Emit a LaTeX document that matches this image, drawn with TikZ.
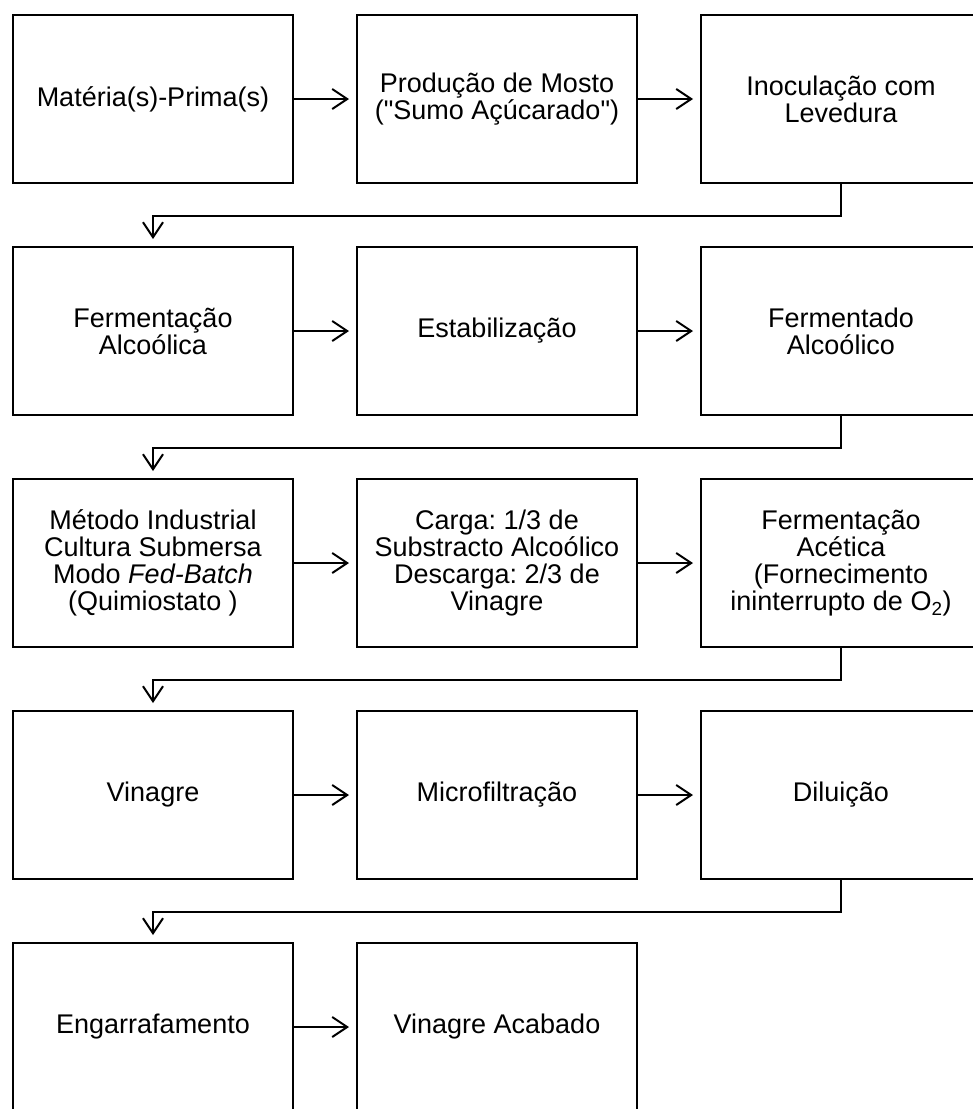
\documentclass[tikz,border=0pt]{standalone}
\usepackage{fontspec}
\newfontfamily\lsans{Liberation Sans}
\usetikzlibrary{arrows.meta}
\frenchspacing
\begin{document}
\begin{tikzpicture}[x=1pt,y=-1pt,
  box/.style={draw,line width=2pt,minimum width=280pt,minimum height=168pt,align=center,inner sep=0pt,font=\lsans\fontsize{27}{27}\selectfont},
  arr/.style={line width=2pt,-{Straight Barb[length=15pt,width=20pt,line width=2pt]}}]
\useasboundingbox (0,0) rectangle (973,1109);
\clip (0,0) rectangle (973,1109);
\node[box] (a1) at (153,99) {Matéria(s)-Prima(s)};
\node[box] (a2) at (497,99) {Produção de Mosto\\("Sumo Açúcarado")};
\node[box] (a3) at (841,99) {Inoculação com\\Levedura};
\node[box] (b1) at (153,331) {Fermentação\\Alcoólica};
\node[box] (b2) at (497,331) {Estabilização};
\node[box] (b3) at (841,331) {Fermentado\\Alcoólico};
\node[box] (c1) at (153,563) {Método Industrial\\Cultura Submersa\\Modo \textit{Fed-Batch}\\(Quimiostato )};
\node[box] (c2) at (497,563) {Carga: 1/3 de\\Substracto Alcoólico\\Descarga: 2/3 de\\Vinagre};
\node[box] (c3) at (841,563) {Fermentação\\Acética\\(Fornecimento\\ininterrupto de O\textsubscript{2})};
\node[box] (d1) at (153,795) {Vinagre};
\node[box] (d2) at (497,795) {Microfiltração};
\node[box] (d3) at (841,795) {Diluição};
\node[box] (e1) at (153,1027) {Engarrafamento};
\node[box] (e2) at (497,1027) {Vinagre Acabado};
\foreach \p/\q in {a1/a2,a2/a3,b1/b2,b2/b3,c1/c2,c2/c3,d1/d2,d2/d3,e1/e2}
  \draw[arr] (\p.east) -- ([xshift=-7pt]\q.west);
\foreach \p/\q in {a3/b1,b3/c1,c3/d1,d3/e1}
  \draw[arr] (\p.south) -- ++(0,32) -| ([yshift=7pt]\q.north);
\end{tikzpicture}
\end{document}
